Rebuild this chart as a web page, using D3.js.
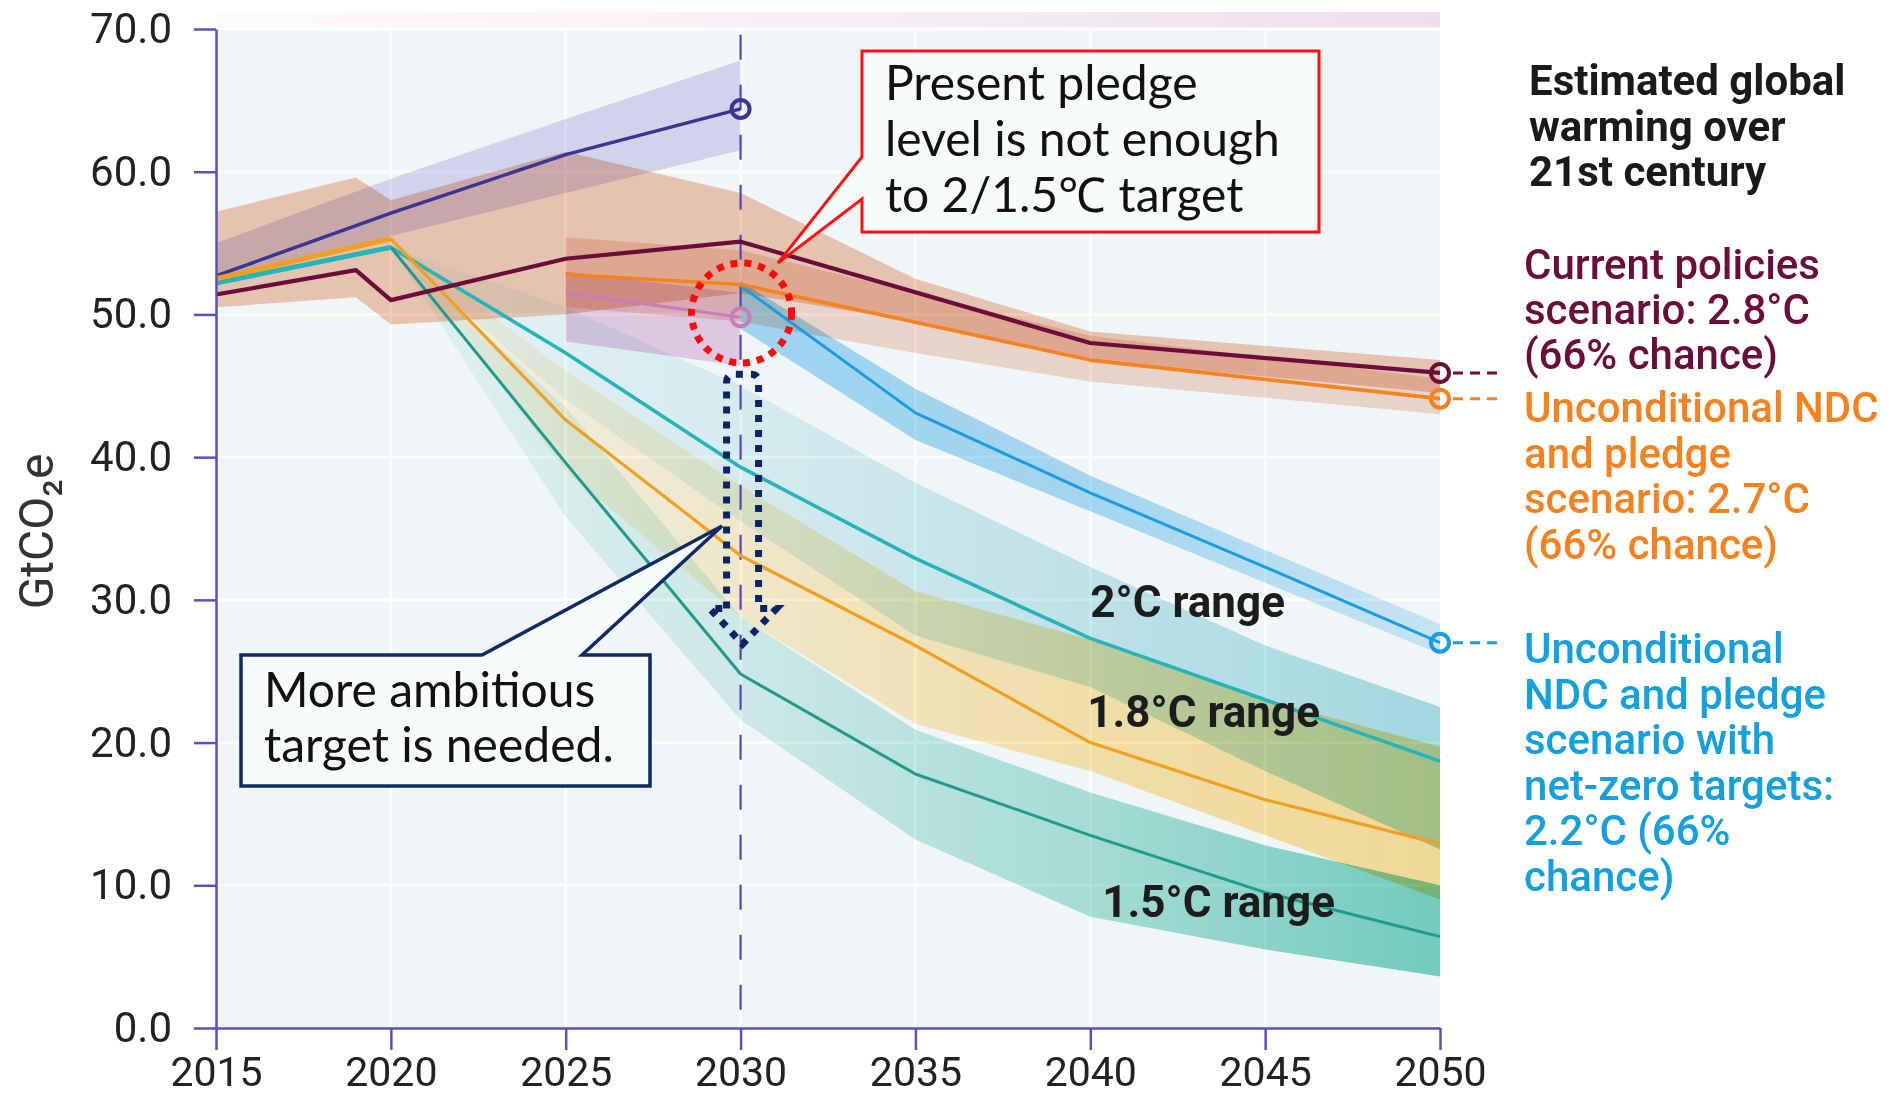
<!DOCTYPE html>
<html>
<head>
<meta charset="utf-8">
<script src="https://cdn.jsdelivr.net/npm/d3@7"></script>
<style>
  body { margin: 0; background: #ffffff; }
  svg { display: block; }
</style>
</head>
<body>
<svg id="chart" width="1903" height="1096"></svg>
<script>
// ---- Axis ticks ----
const yearTicks = [2015, 2020, 2025, 2030, 2035, 2040, 2045, 2050];
const valueTicks = [0, 10, 20, 30, 40, 50, 60, 70];

// ---- Baseline (no-policy) projection ----
const baseYears = [2015, 2020, 2025, 2030];
const baseValues = [52.7, 57.1, 61.2, 64.4];
const baseLow = [52.5, 55.5, 58.5, 61.5];
const baseHigh = [55.0, 59.5, 63.7, 67.8];

// ---- Current policies scenario (2.8°C) ----
const cpYears = [2015, 2019, 2020, 2025, 2030, 2040, 2050];
const cpValues = [51.4, 53.1, 51.0, 53.9, 55.1, 48.0, 45.9];
const cpBandYears = [2015, 2019, 2020, 2025, 2030, 2035, 2040, 2050];
const cpLow = [50.5, 51.2, 49.3, 50.0, 51.5, 49.5, 46.8, 44.5];
const cpHigh = [57.2, 59.6, 58.0, 61.4, 58.5, 52.5, 48.8, 46.8];

// ---- Unconditional NDC and pledge scenario (2.7°C) ----
const ndcYears = [2025, 2030, 2040, 2050];
const ndcValues = [52.8, 52.1, 46.8, 44.1];
const ndcBandYears = [2025, 2030, 2035, 2040, 2050];
const ndcLow = [50.5, 49.5, 47.3, 45.3, 43.0];
const ndcHigh = [55.4, 54.5, 51.5, 48.5, 45.5];

// ---- Conditional NDC scenario (to 2030) ----
const condYears = [2025, 2030];
const condValues = [51.5, 49.8];
const condLow = [48.1, 46.4];
const condHigh = [53.0, 51.5];

// ---- Unconditional NDC + net-zero targets (2.2°C) ----
const nzYears = [2030, 2035, 2040, 2045, 2050];
const nzValues = [52.0, 43.1, 37.5, 32.3, 27.0];
const nzLow = [49.0, 41.2, 36.2, 31.2, 26.2];
const nzHigh = [52.3, 44.8, 38.7, 33.5, 28.3];

// ---- 2°C pathway ----
const c20Years = [2015, 2020, 2025, 2030, 2035, 2040, 2045, 2050];
const c20Values = [52.2, 54.7, 47.3, 39.3, 32.9, 27.3, 23.0, 18.7];
const c20BandYears = [2020, 2025, 2030, 2035, 2040, 2045, 2050];
const c20Low = [54.7, 44.0, 35.5, 27.5, 23.9, 18.0, 12.5];
const c20High = [54.7, 50.5, 45.0, 38.2, 32.3, 26.8, 22.5];

// ---- 1.8°C pathway ----
const c18Years = [2015, 2020, 2025, 2030, 2035, 2040, 2045, 2050];
const c18Values = [52.5, 55.3, 42.6, 33.1, 26.8, 20.0, 16.0, 12.9];
const c18BandYears = [2020, 2025, 2030, 2035, 2040, 2045, 2050];
const c18Low = [55.3, 39.0, 28.8, 21.3, 18.0, 13.5, 9.0];
const c18High = [55.3, 46.0, 38.0, 30.6, 27.2, 23.0, 19.7];

// ---- 1.5°C pathway ----
const c15Years = [2020, 2025, 2030, 2035, 2040, 2045, 2050];
const c15Values = [54.7, 39.6, 24.8, 17.8, 13.5, 9.5, 6.4];
const c15Low = [54.7, 35.8, 21.6, 13.2, 7.8, 5.5, 3.6];
const c15High = [54.7, 43.5, 28.8, 20.9, 16.5, 12.8, 10.0];

// ---- Labels ----
const rightTitle = ["Estimated global", "warming over", "21st century"];
const cpLabel = ["Current policies", "scenario: 2.8°C", "(66% chance)"];
const ndcLabel = ["Unconditional NDC", "and pledge", "scenario: 2.7°C", "(66% chance)"];
const nzLabel = ["Unconditional", "NDC and pledge", "scenario with", "net-zero targets:", "2.2°C (66%", "chance)"];
const pledgeNote = ["Present pledge", "level is not enough", "to 2/1.5\u2103 target"];
const ambitionNote = ["More ambitious", "target is needed."];

// ---- Helpers ----
const zipLine = (yrs, vals) => yrs.map((yr, i) => ({ year: yr, v: vals[i] }));
const zipBand = (yrs, lo, hi) => yrs.map((yr, i) => ({ year: yr, lo: lo[i], hi: hi[i] }));

const svg = d3.select("#chart");
const x = d3.scaleLinear().domain([2015, 2050]).range([216, 1440]);
const y = d3.scaleLinear().domain([0, 70]).range([1028, 29]);

const line = d3.line().x(d => x(d.year)).y(d => y(d.v));
const area = d3.area().x(d => x(d.year)).y0(d => y(d.lo)).y1(d => y(d.hi));

const defs = svg.append("defs");

// faint strip above the plot
const topGrad = defs.append("linearGradient").attr("id", "topStrip")
  .attr("gradientUnits", "userSpaceOnUse").attr("x1", x(2015)).attr("x2", x(2050));
topGrad.append("stop").attr("offset", "0%").attr("stop-color", "#f4e8f1").attr("stop-opacity", 0.2);
topGrad.append("stop").attr("offset", "100%").attr("stop-color", "#efd9ea").attr("stop-opacity", 0.9);
svg.append("rect").attr("x", x(2015)).attr("y", 12).attr("width", x(2050) - x(2015)).attr("height", 16)
  .attr("fill", "url(#topStrip)");

// plot background
svg.append("rect").attr("x", x(2015)).attr("y", y(70)).attr("width", x(2050) - x(2015)).attr("height", y(0) - y(70))
  .attr("fill", "#f0f5f8");

// grid
const grid = svg.append("g").attr("stroke", "#ffffff").attr("stroke-width", 3).attr("opacity", 0.85);
grid.selectAll(".gx").data(yearTicks.slice(1, -1)).join("line")
  .attr("x1", d => x(d)).attr("x2", d => x(d)).attr("y1", y(70)).attr("y2", y(0));
grid.selectAll(".gy").data(valueTicks.slice(1)).join("line")
  .attr("x1", x(2015)).attr("x2", x(2050)).attr("y1", d => y(d)).attr("y2", d => y(d));

// gradient that deepens a band toward 2050
function rampGradient(id, color, stops) {
  const g = defs.append("linearGradient").attr("id", id)
    .attr("gradientUnits", "userSpaceOnUse").attr("x1", x(2020)).attr("x2", x(2050));
  stops.forEach(([yr, op]) => g.append("stop")
    .attr("offset", ((yr - 2020) / 30 * 100) + "%")
    .attr("stop-color", color).attr("stop-opacity", op));
  return "url(#" + id + ")";
}

const bands = svg.append("g");
function drawBand(data, fill) {
  bands.append("path").datum(data).attr("d", area).attr("fill", fill)
    .style("mix-blend-mode", "multiply");
}

drawBand(zipBand(cpBandYears, cpLow, cpHigh), "#f5cbb6");
drawBand(zipBand(baseYears, baseLow, baseHigh), "#dedbf2");
drawBand(zipBand(ndcBandYears, ndcLow, ndcHigh), "#f6dccf");
drawBand(zipBand(condYears, condLow, condHigh), "#ecd0e6");
drawBand(zipBand(c20BandYears, c20Low, c20High),
  rampGradient("g20", "#a8dfe4", [[2020, 0.12], [2030, 0.32], [2040, 0.62], [2050, 0.95]]));
drawBand(zipBand(c18BandYears, c18Low, c18High),
  rampGradient("g18", "#ffe096", [[2020, 0.15], [2030, 0.45], [2040, 0.78], [2050, 0.95]]));
drawBand(zipBand(c15Years, c15Low, c15High),
  rampGradient("g15", "#7ad3c3", [[2020, 0.12], [2030, 0.28], [2040, 0.6], [2050, 1]]));
drawBand(zipBand(nzYears, nzLow, nzHigh),
  rampGradient("gnz", "#a9dcf6", [[2030, 1], [2040, 0.95], [2050, 0.5]]));

// 2030 reference line
svg.append("line").attr("x1", x(2030)).attr("x2", x(2030)).attr("y1", y(69.6)).attr("y2", y(0))
  .attr("stroke", "#5048b0").attr("stroke-width", 2.2).attr("stroke-dasharray", "25 25");

// scenario lines
const lines = svg.append("g").attr("fill", "none").attr("stroke-linejoin", "round");
function drawLine(data, color, width) {
  lines.append("path").datum(data).attr("d", line).attr("stroke", color).attr("stroke-width", width);
}
drawLine(zipLine(baseYears, baseValues), "#3b3592", 3.5);
drawLine(zipLine(c20Years, c20Values), "#25b4b9", 3.6);
drawLine(zipLine(c18Years, c18Values), "#f0a020", 3.2);
drawLine(zipLine(c15Years, c15Values), "#1f9a8c", 3);
drawLine(zipLine(c20Years, c20Values).filter(d => d.year <= 2020), "#25b4b9", 5);
drawLine(zipLine(c18Years, c18Values).filter(d => d.year <= 2020), "#f0a020", 5);
drawLine(zipLine(nzYears, nzValues), "#1a9de0", 3);
drawLine(zipLine(condYears, condValues), "#c97db8", 3.2);
drawLine(zipLine(ndcYears, ndcValues), "#f5821f", 3.6);
drawLine(zipLine(cpYears, cpValues), "#6b0c3b", 4.2);

// end-point markers
const markers = [
  { year: 2030, v: baseValues[baseValues.length - 1], color: "#3b3592" },
  { year: 2030, v: condValues[condValues.length - 1], color: "#c97db8" },
  { year: 2050, v: cpValues[cpValues.length - 1], color: "#6b0c3b", leader: true },
  { year: 2050, v: ndcValues[ndcValues.length - 1], color: "#f5821f", leader: true },
  { year: 2050, v: nzValues[nzValues.length - 1], color: "#1a9de0", leader: true }
];
svg.append("g").selectAll("line").data(markers.filter(d => d.leader)).join("line")
  .attr("x1", d => x(d.year) + 13).attr("x2", d => x(d.year) + 64)
  .attr("y1", d => y(d.v)).attr("y2", d => y(d.v))
  .attr("stroke", d => d.color).attr("stroke-width", 3).attr("stroke-dasharray", "10 7");
svg.append("g").selectAll("circle").data(markers).join("circle")
  .attr("cx", d => x(d.year)).attr("cy", d => y(d.v)).attr("r", 9)
  .attr("fill", "none").attr("stroke", d => d.color).attr("stroke-width", 4);

// axes
const axisColor = "#5b50c0";
const xAxis = svg.append("g").attr("transform", `translate(0,${y(0)})`)
  .call(d3.axisBottom(x).tickValues(yearTicks).tickFormat(d3.format("d"))
    .tickSize(22).tickPadding(7).tickSizeOuter(0));
const yAxis = svg.append("g").attr("transform", `translate(${x(2015)},0)`)
  .call(d3.axisLeft(y).tickValues(valueTicks).tickFormat(d3.format(".1f"))
    .tickSize(22).tickPadding(22).tickSizeOuter(0));
[xAxis, yAxis].forEach(a => {
  a.select(".domain").attr("stroke", axisColor).attr("stroke-width", 2.5);
  a.selectAll(".tick line").attr("stroke", axisColor).attr("stroke-width", 2.5);
  a.selectAll(".tick text").attr("fill", "#222").style("font-family", "Roboto, sans-serif")
    .style("font-size", "42px");
});
xAxis.selectAll(".tick text").style("font-size", "41px");

svg.append("text").attr("transform", `translate(53,${(y(0) + y(70)) / 2 + 3}) rotate(-90)`)
  .attr("text-anchor", "middle").attr("fill", "#333")
  .style("font-family", "Roboto, sans-serif").style("font-size", "48px").text("GtCO\u2082e");

// range labels
const rangeLabels = [
  { text: "2°C range", year: 2040, dx: 0, v: 28.8 },
  { text: "1.8°C range", year: 2040, dx: -3, v: 21.1 },
  { text: "1.5°C range", year: 2040, dx: 12, v: 7.8 }
];
svg.append("g").selectAll("text").data(rangeLabels).join("text")
  .attr("x", d => x(d.year) + d.dx).attr("y", d => y(d.v))
  .attr("fill", "#1c1c1c").style("font-family", "Roboto, sans-serif")
  .style("font-weight", 700).style("font-size", "44px").text(d => d.text);

// right-hand legend text
function textBlock(lines, x0, y0, step, color, weight, size) {
  const t = svg.append("text").attr("fill", color).style("font-family", "Roboto, sans-serif")
    .style("font-size", size + "px").style("font-weight", weight);
  lines.forEach((s, i) => t.append("tspan").attr("x", x0).attr("y", y0 + i * step).text(s));
}
textBlock(rightTitle, 1529, 95, 45.5, "#1a1a1a", 700, 42);
textBlock(cpLabel, 1524, 279, 45, "#6b0c3b", 500, 42);
textBlock(ndcLabel, 1524, 422, 45.5, "#f5821f", 500, 42);
textBlock(nzLabel, 1524, 663, 45.5, "#12a0e0", 500, 42);

// red dotted ring around the 2030 pledge point
svg.append("circle").attr("cx", x(2030) + 1).attr("cy", y(50.1)).attr("r", 50)
  .attr("fill", "none").attr("stroke", "#ff0a0a").attr("stroke-width", 7).attr("stroke-dasharray", "7 7");

// callout: pledge gap
const pb = { x0: 862, y0: 51, x1: 1319, y1: 232, ta: 157, tb: 199, tipX: 778, tipY: 263 };
svg.append("path")
  .attr("d", `M${pb.x0},${pb.y0}H${pb.x1}V${pb.y1}H${pb.x0}V${pb.tb}L${pb.tipX},${pb.tipY}L${pb.x0},${pb.ta}Z`)
  .attr("fill", "#f8fbfc").attr("stroke", "#ff1010").attr("stroke-width", 3).attr("stroke-linejoin", "miter");
const pt = svg.append("text").attr("fill", "#111").style("font-family", "Lato, 'Open Sans', sans-serif")
  .style("font-size", "48px");
pledgeNote.forEach((s, i) => pt.append("tspan").attr("x", 885).attr("y", 100 + i * 56).text(s));

// hollow dotted arrow pointing down at 2030
const ax = x(2030) + 2;
const aTop = y(45.8), aNeck = y(29.4), aTip = y(26.9);
svg.append("path")
  .attr("d", `M${ax - 16},${aNeck}V${aTop + 8}Q${ax - 16},${aTop} ${ax - 8},${aTop}H${ax + 8}Q${ax + 16},${aTop} ${ax + 16},${aTop + 8}V${aNeck}H${ax + 34}L${ax},${aTip}L${ax - 33},${aNeck}Z`)
  .attr("fill", "none").attr("stroke", "#0b2463").attr("stroke-width", 7).attr("stroke-dasharray", "7 8");

// callout: more ambition needed
const nb = { x0: 241, y0: 655, x1: 650, y1: 786, ta: 482, tb: 582, tipX: 722, tipY: 526 };
svg.append("path")
  .attr("d", `M${nb.x0},${nb.y0}H${nb.ta}L${nb.tipX},${nb.tipY}L${nb.tb},${nb.y0}H${nb.x1}V${nb.y1}H${nb.x0}Z`)
  .attr("fill", "#f8fbfc").attr("stroke", "#0e2a6b").attr("stroke-width", 3.5).attr("stroke-linejoin", "miter");
const at = svg.append("text").attr("fill", "#111").style("font-family", "Lato, 'Open Sans', sans-serif")
  .style("font-size", "48px");
ambitionNote.forEach((s, i) => at.append("tspan").attr("x", 264).attr("y", 707 + i * 55).text(s));
</script>
</body>
</html>
